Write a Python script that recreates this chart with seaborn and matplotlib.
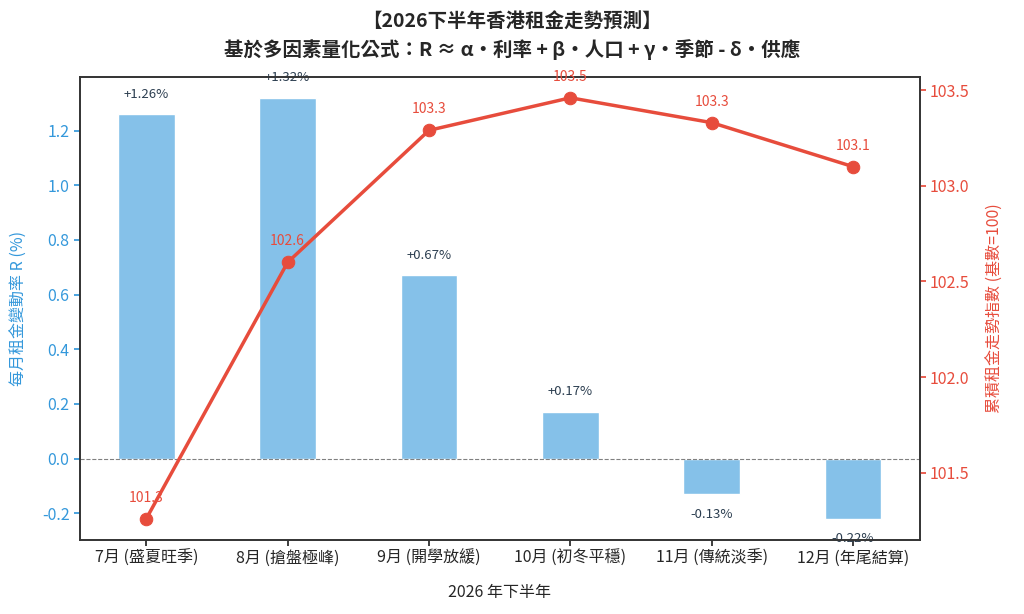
import matplotlib
matplotlib.use("Agg")
import matplotlib.pyplot as plt
import seaborn as sns
import pandas as pd

# data
months = ['7月 (盛夏旺季)', '8月 (搶盤極峰)', '9月 (開學放緩)',
          '10月 (初冬平穩)', '11月 (傳統淡季)', '12月 (年尾結算)']
monthly_r = [1.26, 1.32, 0.67, 0.17, -0.13, -0.22]
index_vals = [101.26, 102.60, 103.29, 103.46, 103.33, 103.10]

bar_color = '#85C1E9'
line_color = '#E74C3C'
left_color = '#3498DB'
text_dark = '#2C3E50'

sns.set_theme(style='white')
plt.rcParams['font.family'] = ['Noto Sans CJK TC', 'DejaVu Sans']
plt.rcParams['axes.unicode_minus'] = False

df = pd.DataFrame({'month': months, 'r': monthly_r, 'idx': index_vals})

fig, ax1 = plt.subplots(figsize=(10.24, 6.14), dpi=100)
fig.subplots_adjust(left=0.078, right=0.898, top=0.875, bottom=0.121)

sns.barplot(data=df, x='month', y='r', color=bar_color, width=0.4,
            saturation=1, ax=ax1)
ax1.axhline(0, color='gray', linestyle='--', linewidth=0.8)

for i, v in enumerate(monthly_r):
    if v >= 0:
        ax1.text(i, v + 0.05, f'+{v:.2f}%', ha='center', va='bottom',
                 fontsize=9.5, color=text_dark)
    else:
        ax1.text(i, v - 0.05, f'{v:.2f}%', ha='center', va='top',
                 fontsize=9.5, color=text_dark)

ax1.set_ylabel('每月租金變動率 R (%)', color=left_color, fontsize=11.5, labelpad=10)
ax1.tick_params(axis='y', colors=left_color, labelsize=11.5, left=True, length=4)
ax1.tick_params(axis='x', labelsize=11.5, bottom=True, length=4)
ax1.set_xlabel('2026 年下半年', fontsize=11.5, labelpad=12)

ax2 = ax1.twinx()
sns.lineplot(data=df, x='month', y='idx', color=line_color, linewidth=2.5,
             marker='o', markersize=9, markeredgecolor=line_color,
             sort=False, ax=ax2)
for i, v in enumerate(index_vals):
    ax2.annotate(f'{v:.1f}', (i, v), textcoords='offset points', xytext=(0, 10),
                 ha='center', va='bottom', fontsize=10, color=line_color)
ax2.set_ylabel('累積租金走勢指數 (基數=100)', color=line_color, fontsize=11.5, labelpad=12)
ax2.tick_params(axis='y', colors=line_color, labelsize=11.5, right=True, length=4)
ax2.margins(y=0.05)

for ax in (ax1, ax2):
    for s in ax.spines.values():
        s.set_color('#333333')
        s.set_linewidth(1.2)

fig.suptitle('【2026下半年香港租金走勢預測】\n基於多因素量化公式：R ≈ α·利率 + β·人口 + γ·季節 - δ·供應',
             fontsize=14, fontweight='bold', y=0.98, linespacing=1.45)

fig.savefig('out.png', dpi=100)
